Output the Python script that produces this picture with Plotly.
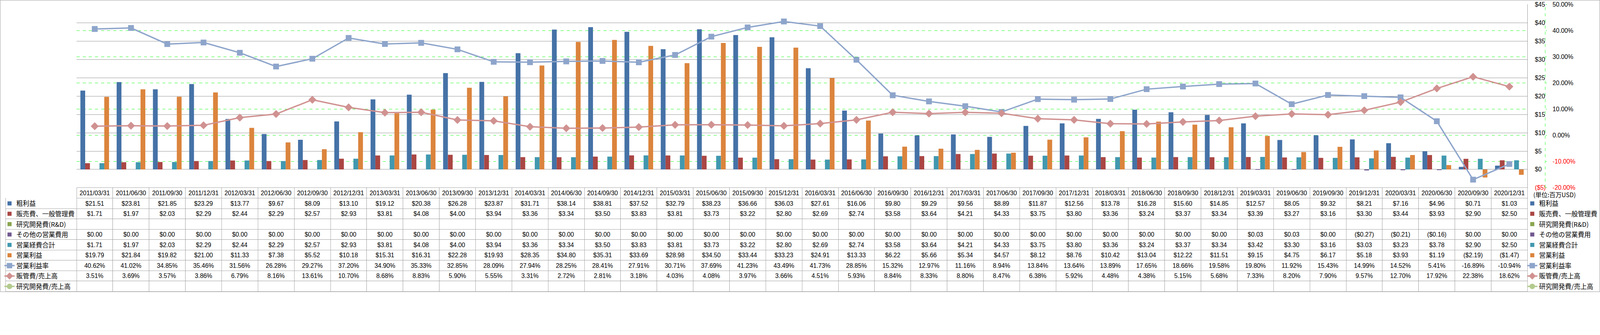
import plotly.graph_objects as go

W, H = 4701, 858

dates = ["2011/03/31", "2011/06/30", "2011/09/30", "2011/12/31", "2012/03/31", "2012/06/30", "2012/09/30", "2012/12/31",
         "2013/03/31", "2013/06/30", "2013/09/30", "2013/12/31", "2014/03/31", "2014/06/30", "2014/09/30", "2014/12/31",
         "2015/03/31", "2015/06/30", "2015/09/30", "2015/12/31", "2016/03/31", "2016/06/30", "2016/09/30", "2016/12/31",
         "2017/03/31", "2017/06/30", "2017/09/30", "2017/12/31", "2018/03/31", "2018/06/30", "2018/09/30", "2018/12/31",
         "2019/03/31", "2019/06/30", "2019/09/30", "2019/12/31", "2020/03/31", "2020/06/30", "2020/09/30", "2020/12/31"]

gross = [21.51, 23.81, 21.85, 23.29, 13.77, 9.67, 8.09, 13.10, 19.12, 20.38, 26.28, 23.87, 31.71, 38.14, 38.81, 37.52,
         32.79, 38.23, 36.66, 36.03, 27.61, 16.06, 9.80, 9.29, 9.56, 8.89, 11.87, 12.56, 13.78, 16.28, 15.60, 14.85,
         12.57, 8.05, 9.32, 8.21, 7.16, 4.96, 0.71, 1.03]
sga = [1.71, 1.97, 2.03, 2.29, 2.44, 2.29, 2.57, 2.93, 3.81, 4.08, 4.00, 3.94, 3.36, 3.34, 3.50, 3.83,
       3.81, 3.73, 3.22, 2.80, 2.69, 2.74, 3.58, 3.64, 4.21, 4.33, 3.75, 3.80, 3.36, 3.24, 3.37, 3.34,
       3.39, 3.27, 3.16, 3.30, 3.44, 3.93, 2.90, 2.50]
rnd = [None] * 40
other = [0.00, 0.00, 0.00, 0.00, 0.00, 0.00, 0.00, 0.00, 0.00, 0.00, 0.00, 0.00, 0.00, 0.00, 0.00, 0.00,
         0.00, 0.00, 0.00, 0.00, 0.00, 0.00, 0.00, 0.00, 0.00, 0.00, 0.00, 0.00, 0.00, 0.00, 0.00, 0.00,
         0.03, 0.03, 0.00, -0.27, -0.21, -0.16, 0.00, 0.00]
opex_total = [1.71, 1.97, 2.03, 2.29, 2.44, 2.29, 2.57, 2.93, 3.81, 4.08, 4.00, 3.94, 3.36, 3.34, 3.50, 3.83,
              3.81, 3.73, 3.22, 2.80, 2.69, 2.74, 3.58, 3.64, 4.21, 4.33, 3.75, 3.80, 3.36, 3.24, 3.37, 3.34,
              3.42, 3.30, 3.16, 3.03, 3.23, 3.78, 2.90, 2.50]
op_income = [19.79, 21.84, 19.82, 21.00, 11.33, 7.38, 5.52, 10.18, 15.31, 16.31, 22.28, 19.93, 28.35, 34.80, 35.31, 33.69,
             28.98, 34.50, 33.44, 33.23, 24.91, 13.33, 6.22, 5.66, 5.34, 4.57, 8.12, 8.76, 10.42, 13.04, 12.22, 11.51,
             9.15, 4.75, 6.17, 5.18, 3.93, 1.19, -2.19, -1.47]
op_margin_pct = [40.62, 41.02, 34.85, 35.46, 31.56, 26.28, 29.27, 37.20, 34.90, 35.33, 32.85, 28.09, 27.94, 28.25, 28.41, 27.91,
                 30.71, 37.69, 41.23, 43.49, 41.73, 28.85, 15.32, 12.97, 11.16, 8.94, 13.84, 13.64, 13.89, 17.65, 18.66, 19.58,
                 19.80, 11.92, 15.43, 14.99, 14.52, 5.41, -16.89, -10.94]
sga_ratio_pct = [3.51, 3.69, 3.57, 3.86, 6.79, 8.16, 13.61, 10.70, 8.68, 8.83, 5.90, 5.55, 3.31, 2.72, 2.81, 3.18,
                 4.03, 4.08, 3.97, 3.66, 4.51, 5.93, 8.84, 8.33, 8.80, 8.47, 6.38, 5.92, 4.48, 4.38, 5.15, 5.68,
                 7.33, 8.20, 7.90, 9.57, 12.70, 17.92, 22.38, 18.62]
rnd_ratio_pct = [None] * 40

usd_ticks = [-5, 0, 5, 10, 15, 20, 25, 30, 35, 40, 45]
pct_ticks = [-0.2, -0.1, 0.0, 0.1, 0.2, 0.3, 0.4, 0.5]
unit_label = "(単位:百万USD)"

bar_series = [
    ("粗利益", gross, "#4572A7"),
    ("販売費、一般管理費", sga, "#AA4643"),
    ("研究開発費(R&D)", rnd, "#89A54E"),
    ("その他の営業費用", other, "#71588F"),
    ("営業経費合計", opex_total, "#4198AF"),
    ("営業利益", op_income, "#DB843D"),
]
line_series = [
    ("営業利益率", op_margin_pct, "#8EA5CB", "square", 17),
    ("販管費/売上高", sga_ratio_pct, "#D09291", "diamond", 18),
    ("研究開発費/売上高", rnd_ratio_pct, "#B3CB8E", "circle", 16),
]

FONT = "Liberation Sans, Noto Sans CJK JP, sans-serif"
CJK = "Noto Sans CJK JP, Liberation Sans, sans-serif"
GRID = "#868686"
TGRID = "#9A9A9A"

# pixel geometry
PL, PR, PT, PB = 225, 4488, 13, 552
TL, TB = 17, 857
AX2 = 4540


def fx(p):
    return p / W


def fy(p):
    return 1 - p / H


def money(v):
    if v is None:
        return ""
    return f"${v:.2f}" if v >= 0 else f"(${-v:.2f})"


def pct(v):
    if v is None:
        return ""
    return f"{v:.2f}%"


fig = go.Figure()

for name, vals, color in bar_series:
    fig.add_bar(x=dates, y=vals, name=name, marker=dict(color=color, line=dict(width=0)),
                legendgroup=name, xaxis="x", yaxis="y")

for name, vals, color, sym, size in line_series:
    fig.add_scatter(x=dates, y=[None if v is None else v / 100 for v in vals], name=name,
                    mode="lines+markers", line=dict(color=color, width=4),
                    marker=dict(symbol=sym, size=size, color=color),
                    legendgroup=name, xaxis="x", yaxis="y2")

# legend keys for the data-table row labels
for name, vals, color in bar_series:
    fig.add_bar(x=[dates[0]], y=[None], name=name, marker=dict(color=color, line=dict(width=0)),
                legend="legend2", legendgroup="k" + name, xaxis="x2", yaxis="y3", hoverinfo="skip")
for name, vals, color, sym, size in line_series:
    fig.add_scatter(x=[dates[0]], y=[None], name=name, mode="lines+markers",
                    line=dict(color=color, width=4), marker=dict(symbol=sym, size=size, color=color),
                    legend="legend2", legendgroup="k" + name, xaxis="x2", yaxis="y3", hoverinfo="skip")

# data table
row_fmt = [(gross, money), (sga, money), (rnd, money), (other, money), (opex_total, money),
           (op_income, money), (op_margin_pct, pct), (sga_ratio_pct, pct), (rnd_ratio_pct, pct)]
cols = [[""] * len(row_fmt)]
for i in range(len(dates)):
    cols.append([f(vals[i]) for vals, f in row_fmt])

colw = [PL - TL] + [(PR - PL) / len(dates)] * len(dates)
fig.add_trace(go.Table(
    domain=dict(x=[fx(TL), fx(PR)], y=[fy(TB), fy(PB)]),
    columnwidth=colw,
    header=dict(values=[""] + dates, height=31, fill=dict(color="white"),
                line=dict(color=["rgba(0,0,0,0)"] + [TGRID] * len(dates), width=1),
                font=dict(size=18, color="black", family=FONT), align="center"),
    cells=dict(values=cols, height=30.4, fill=dict(color="white"),
               line=dict(color=TGRID, width=1),
               font=dict(size=18, color="black", family=FONT),
               align=["left"] + ["center"] * len(dates)),
))

usd_text = [f"<span style='color:red'>(${-v})</span>" if v < 0 else f"${v}" for v in usd_ticks]
pct_text = [f"<span style='color:red'>{v * 100:.2f}%</span>" if v < 0 else f"{v * 100:.2f}%" for v in pct_ticks]

leg_common = dict(font=dict(size=19, family=CJK, color="black"), tracegroupgap=2.8,
                  bgcolor="rgba(0,0,0,0)", traceorder="grouped", itemwidth=30, itemclick=False,
                  itemdoubleclick=False, yanchor="top", xanchor="left")

fig.update_layout(
    width=W, height=H, margin=dict(l=0, r=0, t=0, b=0, autoexpand=False),
    paper_bgcolor="white", plot_bgcolor="white",
    barmode="group", bargap=0.21, bargroupgap=0,
    showlegend=True,
    legend=dict(x=fx(4482), y=fy(579), **leg_common),
    legend2=dict(x=fx(8), y=fy(579), **leg_common),
    xaxis=dict(type="category", domain=[fx(PL), fx(PR)], range=[-0.5, len(dates) - 0.5],
               showgrid=False, showline=True, linecolor=GRID, linewidth=1,
               showticklabels=False, ticks="", anchor="y", fixedrange=True),
    yaxis=dict(domain=[fy(PB), fy(PT)], range=[-5, 45], tickvals=usd_ticks, ticktext=usd_text,
               side="right", anchor="x", showline=True, linecolor=GRID, linewidth=1,
               showgrid=True, gridcolor=GRID, gridwidth=1, zeroline=False, ticks="",
               ticklabelstandoff=17, tickfont=dict(size=18, family=FONT, color="black"), fixedrange=True),
    yaxis2=dict(domain=[fy(PB), fy(PT)], range=[-0.2, 0.5], tickvals=pct_ticks, ticktext=pct_text,
                overlaying="y", side="right", anchor="free", position=fx(AX2),
                showline=False, showgrid=True, gridcolor="#00FF00", griddash="dash", gridwidth=1,
                zeroline=False, ticks="outside", ticklen=4, tickcolor="#00FF00",
                ticklabelstandoff=13, tickfont=dict(size=18, family=FONT, color="black"), fixedrange=True),
    xaxis2=dict(domain=[0, 0.001], visible=False, anchor="y3", type="category"),
    yaxis3=dict(domain=[0, 0.001], visible=False, anchor="x2"),
    shapes=[
        dict(type="rect", xref="paper", yref="paper", x0=fx(0.5), x1=fx(W - 0.5), y0=fy(H - 0.5), y1=fy(0.5),
             line=dict(color=GRID, width=1), fillcolor="rgba(0,0,0,0)", layer="above"),
        dict(type="line", xref="paper", yref="paper", x0=fx(AX2), x1=fx(AX2), y0=fy(PB), y1=fy(PT),
             line=dict(color="#00FF00", width=1, dash="dash")),
    ],
    annotations=[
        dict(text=unit_label, xref="paper", yref="paper", x=fx(4503), y=fy(572), xanchor="left",
             yanchor="middle", showarrow=False, font=dict(size=18, family=CJK, color="black")),
    ],
)

post = (
    "document.documentElement.style.margin='0';document.body.style.margin='0';"
    "document.body.style.overflow='hidden';document.documentElement.style.overflow='hidden';"
    "var gd=document.getElementById('{plot_id}');"
    "var s=Math.min(window.innerWidth/%d, window.innerHeight/%d);"
    "if(s>0 && Math.abs(s-1)>0.001){gd.style.zoom=s;}"
) % (W, H)

fig.write_html("out.html", post_script=post, config={"displayModeBar": False})
